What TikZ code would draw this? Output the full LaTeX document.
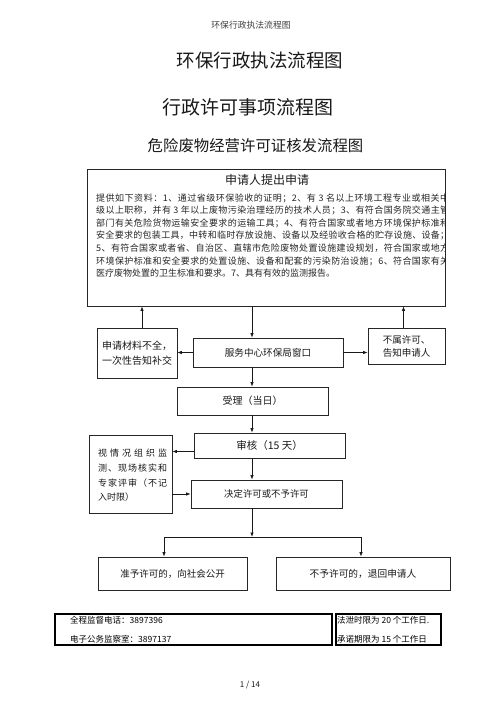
\documentclass[tikz,border=0pt]{standalone}
\usepackage{fontspec}
\setmainfont{Noto Sans CJK SC}
\usetikzlibrary{arrows.meta}
\XeTeXinterchartokenstate=1
\newcount\cjkc
\cjkc="3000
\loop \XeTeXcharclass\cjkc=1 \advance\cjkc by 1 \ifnum\cjkc<"A000 \repeat
\cjkc="FF00
\loop \XeTeXcharclass\cjkc=1 \advance\cjkc by 1 \ifnum\cjkc<"FF60 \repeat
\XeTeXinterchartoks 1 1 = {\hskip 0pt plus 1pt}
\XeTeXinterchartoks 1 0 = {\hskip 0pt plus 1pt}
\XeTeXinterchartoks 0 1 = {\hskip 0pt plus 1pt}
\newcommand{\fsz}[2]{\fontsize{#1}{#2}\selectfont}
\begin{document}
\begin{tikzpicture}[x=1pt,y=-1pt,
  box/.style={draw=black!85, line width=0.8pt, inner sep=0pt, align=center, text=black!90},
  arr/.style={-{Latex[length=4.5pt,width=3.5pt]}, line width=0.7pt, draw=black!90},
  ln/.style={draw=black!90, line width=0.7pt},
  txt/.style={inner sep=0pt, text=black!90},
  bodyline/.style={inner sep=0pt, anchor=west, text=black!85, font=\fsz{9}{9}},
  foot/.style={draw=black, line width=1.1pt, inner sep=0pt},
  foottxt/.style={inner sep=0pt, anchor=west, font=\fsz{8.5}{8.5}}]
\useasboundingbox (0,0) rectangle (503,711);
\fill[white] (0,0) rectangle (503,711);

% titles
\node[txt, text=black!75, font=\fsz{8.8}{8.8}] (hdr) at (251,25) {环保行政执法流程图};
\node[txt, font=\fsz{18.5}{18.5}] (t1) at (260,60) {环保行政执法流程图};
\node[txt, font=\fsz{19}{19}] (t2) at (247.5,107) {行政许可事项流程图};
\node[txt, font=\fsz{15.4}{15.4}] (t3) at (255.5,145.5) {危险废物经营许可证核发流程图};

% application box
\node[box, minimum width=358pt, minimum height=137pt] (app) at (266.5,237.5) {};
\node[txt, font=\fsz{12}{12}] (appt) at (267,180) {申请人提出申请};
\begin{scope}
\clip (app.south west) rectangle (app.north east);
\node[bodyline] (l1) at (96,198) {\hbox to 353pt{提供如下资料：1、通过省级环保验收的证明；2、有 3 名以上环境工程专业或相关中}};
\node[bodyline] (l2) at (96,210.6) {\hbox to 353pt{级以上职称，并有 3 年以上废物污染治理经历的技术人员；3、有符合国务院交通主管}};
\node[bodyline] (l3) at (96,223.2) {\hbox to 353pt{部门有关危险货物运输安全要求的运输工具；4、有符合国家或者地方环境保护标准和}};
\node[bodyline] (l4) at (96,235.8) {\hbox to 353pt{安全要求的包装工具，中转和临时存放设施、设备以及经验收合格的贮存设施、设备；}};
\node[bodyline] (l5) at (96,248.4) {\hbox to 353pt{5、有符合国家或者省、自治区、直辖市危险废物处置设施建设规划，符合国家或地方}};
\node[bodyline] (l6) at (96,261) {\hbox to 353pt{环境保护标准和安全要求的处置设施、设备和配套的污染防治设施；6、符合国家有关}};
\node[bodyline] (l7) at (96,273.6) {医疗废物处置的卫生标准和要求。7、具有有效的监测报告。};
\end{scope}

% second row
\node[box, minimum width=80pt, minimum height=50pt, font=\fsz{10}{15}] (lbox) at (137,353) {申请材料不全，\\一次性告知补交};
\node[box, minimum width=150pt, minimum height=29pt, font=\fsz{9.6}{9.6}] (cbox) at (268,352.5) {服务中心环保局窗口};
\node[box, minimum width=77pt, minimum height=36pt, font=\fsz{9.5}{13}] (rbox) at (406.5,346) {不属许可、\\告知申请人};

\coordinate (sp) at (252,0);
\draw[arr] ([xshift=5pt]lbox.north) -- ([xshift=5pt]lbox.north |- app.south);
\draw[arr] (app.south -| sp) -- (cbox.north -| sp);
\draw[arr] ([xshift=-3pt]rbox.north) -- ([xshift=-3pt]rbox.north |- app.south);
\draw[arr] (cbox.west) -- (cbox.west -| lbox.east);
\draw[arr] (cbox.east) -- (cbox.east -| rbox.west);

% process
\node[box, minimum width=151pt, minimum height=28pt, font=\fsz{10}{10}] (acc) at (252.5,401) {受理（当日）};
\node[box, minimum width=151pt, minimum height=25pt, font=\fsz{10.5}{10.5}] (rev) at (269.5,445.5) {审核（15 天）};
\node[box, minimum width=151pt, minimum height=28pt, font=\fsz{9.4}{9.4}] (dec) at (266.5,494) {决定许可或不予许可};
\node[box, minimum width=83pt, minimum height=78pt] (vbox) at (130.5,474) {};
\node[txt, anchor=west, font=\fsz{9}{9}] (v1) at (98,453) {\hbox to 69pt{视情况组织监}};
\node[txt, anchor=west, font=\fsz{9}{9}] (v2) at (98,468) {\hbox to 69pt{测、现场核实和}};
\node[txt, anchor=west, font=\fsz{9}{9}] (v3) at (98,483) {\hbox to 69pt{专家评审（不记}};
\node[txt, anchor=west, font=\fsz{9}{9}] (v4) at (98,497.5) {入时限）};

\draw[arr] (cbox.south -| sp) -- (acc.north -| sp);
\draw[arr] (acc.south -| sp) -- (rev.north -| sp);
\draw[arr] ([yshift=-6pt]rev.west) -- ([yshift=-6pt]rev.west -| vbox.east);
\draw[arr] (dec.west -| vbox.east) -- (dec.west);
\draw[arr] (rev.south -| sp) -- (dec.north -| sp);

% branch
\node[box, minimum width=149pt, minimum height=33pt, font=\fsz{9.5}{9.5}] (yes) at (172.5,573.5) {准予许可的，向社会公开};
\node[box, minimum width=174pt, minimum height=33pt, font=\fsz{9.7}{9.7}] (no) at (363,573.5) {不予许可的，退回申请人};
\coordinate (bj) at (252,537);
\coordinate (bl) at (164,537);
\coordinate (br) at (361,537);
\draw[arr] (dec.south -| sp) -- (bj);
\draw[ln] (bl) -- (br);
\draw[arr] (bl) -- (yes.north -| bl);
\draw[arr] (br) -- (no.north -| br);

% footer
\node[foot, minimum width=277pt, minimum height=31pt] (f1) at (193.5,629.5) {};
\node[foot, minimum width=105pt, minimum height=31pt] (f2) at (388.5,629.5) {};
\node[foottxt] (f1a) at (70,620.5) {全程监督电话：3897396};
\node[foottxt] (f1b) at (70,639) {电子公务监察室：3897137};
\node[foottxt] (f2a) at (337,620.5) {法泄时限为 20 个工作日.};
\node[foottxt] (f2b) at (337,639) {承诺期限为 15 个工作日};
\node[txt, font=\fsz{8}{8}] (pg) at (250,685) {1 / 14};
\end{tikzpicture}
\end{document}
